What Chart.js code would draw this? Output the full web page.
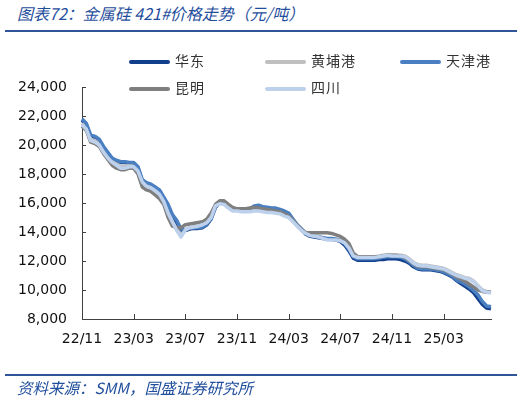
<!DOCTYPE html>
<html>
<head>
<meta charset="utf-8">
<script src="https://cdn.jsdelivr.net/npm/chart.js@4/dist/chart.umd.min.js"></script>
<style>
  body { margin: 0; background: #fff; }
  #wrap { position: relative; width: 525px; height: 400px; overflow: hidden; }
  #chart { position: absolute; left: 0; top: 0; }
  .title, .src {
    position: absolute; left: 17px; color: #1f4e9c; font-style: italic;
    font-family: "Noto Sans CJK SC", sans-serif; white-space: nowrap;
  }
  .title { top: 1px; font-size: 16px; }
  .src { top: 376px; font-size: 15.5px; }
  .rule { position: absolute; left: 5px; width: 512px; background: #2e5597; }
  #legend .item {
    position: absolute; height: 20px; line-height: 20px; white-space: nowrap;
    font-family: "Noto Sans CJK SC", sans-serif; font-size: 14px; color: #333;
    letter-spacing: 1px;
  }
  #legend .sw { display: inline-block; width: 41px; height: 4px; vertical-align: middle; margin-right: 5px; border-radius: 2px; }
</style>
</head>
<body>
<div id="wrap">
  <div class="title">图表72：金属硅 421#价格走势（元/吨）</div>
  <div class="rule" style="top:30px;height:2px"></div>
  <canvas id="chart" width="525" height="400"></canvas>
  <div id="legend"></div>
  <div class="rule" style="top:374px;height:1.5px"></div>
  <div class="src">资料来源：SMM，国盛证券研究所</div>
</div>
<script>
// 数据：2022/11 起，每月 1/11/21 日各取一点（元/吨）
var startYear = 2022, startMonth = 11, months = 32;
var dayPoints = [1, 11, 21];

var seriesNames = ["华东", "黄埔港", "天津港", "昆明", "四川"];

var huadong = [
  21700, 21400, 20600, 20500, 20300, 19800, 19400, 19000, 18900, 18800, 18800, 18750,
  18750, 18450, 17550, 17350, 17250, 17050, 16800, 16300, 15700, 15100, 14600, 14100,
  14100, 14200, 14250, 14250, 14300, 14500, 14900, 15700, 16050, 16000, 15750, 15550,
  15550, 15500, 15500, 15550, 15700, 15750, 15700, 15650, 15600, 15600, 15500, 15400,
  15250, 14850, 14450, 14150, 13850, 13700, 13650, 13600, 13550, 13500, 13500, 13450,
  13350, 13100, 12700, 12200, 12050, 12050, 12050, 12050, 12050, 12100, 12100, 12150,
  12150, 12150, 12100, 12000, 11850, 11600, 11450, 11400, 11400, 11400, 11350, 11300,
  11200, 11050, 10900, 10650, 10450, 10250, 10050, 9800, 9400, 9000, 8750, 8700
];
var huangpu = [
  21500, 21200, 20400, 20300, 20100, 19600, 19200, 18900, 18700, 18500, 18500, 18600,
  18600, 18300, 17500, 17200, 17100, 16900, 16650, 16100, 15300, 14700, 14200, 13800,
  14150, 14300, 14350, 14400, 14500, 14650, 15000, 15800, 16000, 15950, 15700, 15500,
  15500, 15450, 15450, 15450, 15500, 15500, 15450, 15400, 15400, 15350, 15300, 15150,
  15050, 14750, 14450, 14150, 13950, 13800, 13750, 13700, 13600, 13500, 13500, 13500,
  13450, 13300, 12950, 12400, 12300, 12300, 12300, 12300, 12300, 12350, 12400, 12450,
  12400, 12400, 12400, 12350, 12150, 11900, 11750, 11700, 11700, 11650, 11600, 11550,
  11500, 11350, 11200, 11050, 10950, 10850, 10800, 10600, 10300, 10000, 9900, 9850
];
var tianjin = [
  21800, 21500, 20700, 20600, 20400, 19900, 19500, 19100, 18950, 18850, 18850, 18800,
  18800, 18500, 17600, 17400, 17300, 17100, 16900, 16400, 15900, 15200, 14800, 14200,
  14150, 14250, 14300, 14300, 14350, 14550, 14950, 15750, 16100, 16050, 15800, 15600,
  15600, 15550, 15550, 15600, 15800, 15850, 15750, 15700, 15650, 15650, 15550, 15450,
  15300, 14900, 14500, 14200, 13900, 13750, 13700, 13650, 13600, 13550, 13550, 13500,
  13400, 13200, 12800, 12300, 12150, 12150, 12150, 12150, 12150, 12200, 12250, 12300,
  12300, 12300, 12250, 12150, 11950, 11700, 11500, 11450, 11450, 11450, 11400, 11350,
  11250, 11100, 10950, 10700, 10550, 10400, 10200, 9950, 9650, 9200, 8900, 8850
];
var kunming = [
  21300, 21000, 20200, 20100, 19900, 19400, 19000, 18600, 18400, 18300, 18300, 18400,
  18400, 18000, 17100, 16900, 16800, 16550, 16300, 15900, 15000, 14400, 14300, 14300,
  14500, 14550, 14600, 14650, 14700, 14900, 15300, 15900, 16150, 16150, 15900, 15700,
  15600, 15600, 15600, 15650, 15700, 15650, 15600, 15550, 15500, 15450, 15400, 15250,
  15100, 14800, 14450, 14150, 13950, 13950, 13950, 13950, 13950, 13950, 13900, 13800,
  13700, 13500, 13200, 12550, 12300, 12300, 12300, 12300, 12300, 12300, 12350, 12400,
  12400, 12400, 12350, 12250, 12050, 11800, 11650, 11600, 11600, 11550, 11500, 11450,
  11400, 11250, 11100, 10900, 10750, 10600, 10400, 10200, 10000, 9900, 9850, 9850
];
var sichuan = [
  21400, 21100, 20300, 20200, 20000, 19500, 19100, 18800, 18600, 18400, 18400, 18500,
  18500, 18200, 17450, 17150, 17050, 16850, 16600, 16100, 15300, 14700, 14100, 13650,
  14150, 14300, 14350, 14400, 14500, 14650, 15000, 15800, 15950, 15900, 15650, 15450,
  15450, 15400, 15400, 15400, 15450, 15450, 15400, 15350, 15350, 15300, 15250, 15100,
  15000, 14700, 14400, 14100, 13900, 13750, 13700, 13650, 13550, 13450, 13450, 13450,
  13400, 13250, 12900, 12350, 12250, 12250, 12250, 12250, 12250, 12300, 12350, 12400,
  12350, 12350, 12350, 12300, 12100, 11850, 11700, 11650, 11650, 11600, 11550, 11500,
  11450, 11300, 11150, 11000, 10900, 10800, 10750, 10550, 10250, 9950, 9850, 9800
];

var yTicksMin = 8000, yTicksMax = 24000, yStep = 2000;
var tickEveryMonths = 4;

var colors = ["#123f8c", "#bfbfbf", "#4a7fc1", "#7f7f7f", "#bdd1ec"];

// 日期标签
var labels = [];
for (var m = 0; m < months; m++) {
  var yy = startYear + Math.floor((startMonth - 1 + m) / 12);
  var mm = (startMonth - 1 + m) % 12 + 1;
  dayPoints.forEach(function (d) {
    labels.push({ y: yy, m: mm, d: d, idx: m });
  });
}
var pts = huadong.length;
labels = labels.slice(0, pts);

function pad2(n) { return (n < 10 ? "0" : "") + n; }

var allSeries = [huadong, huangpu, tianjin, kunming, sichuan];

var innerTicks = {
  id: "innerTicks",
  beforeDatasetsDraw: function (chart) {
    var ctx = chart.ctx, xs = chart.scales.x, ys = chart.scales.y;
    ctx.save();
    ctx.strokeStyle = "#404040";
    ctx.lineWidth = 1;
    ctx.beginPath();
    ys.ticks.forEach(function (t, i) {
      var y = Math.round(ys.getPixelForTick(i)) + 0.5;
      ctx.moveTo(ys.right, y);
      ctx.lineTo(ys.right + 4, y);
    });
    xs.ticks.forEach(function (t, i) {
      if (!t.label || i === 0) return;
      var x = Math.round(xs.getPixelForTick(i)) + 0.5;
      ctx.moveTo(x, xs.top);
      ctx.lineTo(x, xs.top - 5);
    });
    ctx.stroke();
    ctx.restore();
  }
};

var chart = new Chart(document.getElementById("chart").getContext("2d"), {
  type: "line",
  data: {
    labels: labels.map(function (l) { return l.y + "-" + pad2(l.m) + "-" + pad2(l.d); }),
    datasets: allSeries.map(function (s, k) {
      return {
        label: seriesNames[k],
        data: s,
        borderColor: colors[k],
        backgroundColor: colors[k],
        borderWidth: 3.5,
        pointRadius: 0,
        tension: 0,
        borderJoinStyle: "round",
        order: seriesNames.length - k
      };
    })
  },
  options: {
    responsive: false,
    animation: false,
    layout: { padding: { left: 0, top: 87, right: 34, bottom: 41 } },
    plugins: { legend: { display: false }, tooltip: { enabled: false } },
    scales: {
      x: {
        type: "category",
        offset: false,
        grid: { display: false, drawTicks: false },
        border: { display: true, color: "#404040", width: 1 },
        afterFit: function (s) { s.height = 40; },
        ticks: {
          autoSkip: false,
          maxRotation: 0,
          padding: 12,
          color: "#111",
          font: { family: "DejaVu Sans", size: 14 },
          callback: function (v, i) {
            var l = labels[i];
            if (l.d !== 1 || l.idx % tickEveryMonths !== 0) return null;
            return pad2(l.y % 100) + "/" + pad2(l.m);
          }
        }
      },
      y: {
        min: yTicksMin,
        max: yTicksMax,
        grid: { display: false, drawTicks: false },
        border: { display: true, color: "#404040", width: 1 },
        afterFit: function (s) { s.width = 82; },
        ticks: {
          stepSize: yStep,
          padding: 15,
          color: "#111",
          font: { family: "DejaVu Sans", size: 14 },
          callback: function (v) { return v.toLocaleString("en-US"); }
        }
      }
    }
  },
  plugins: [innerTicks]
});

// 图例（固定列宽）
var legendPos = [[129, 50], [265, 50], [400, 50], [129, 77], [265, 77]];
var lg = document.getElementById("legend");
chart.data.datasets.forEach(function (ds, k) {
  var it = document.createElement("div");
  it.className = "item";
  it.style.left = legendPos[k][0] + "px";
  it.style.top = legendPos[k][1] + "px";
  it.innerHTML = '<span class="sw" style="background:' + ds.borderColor + '"></span>' + ds.label;
  lg.appendChild(it);
});
</script>
</body>
</html>
